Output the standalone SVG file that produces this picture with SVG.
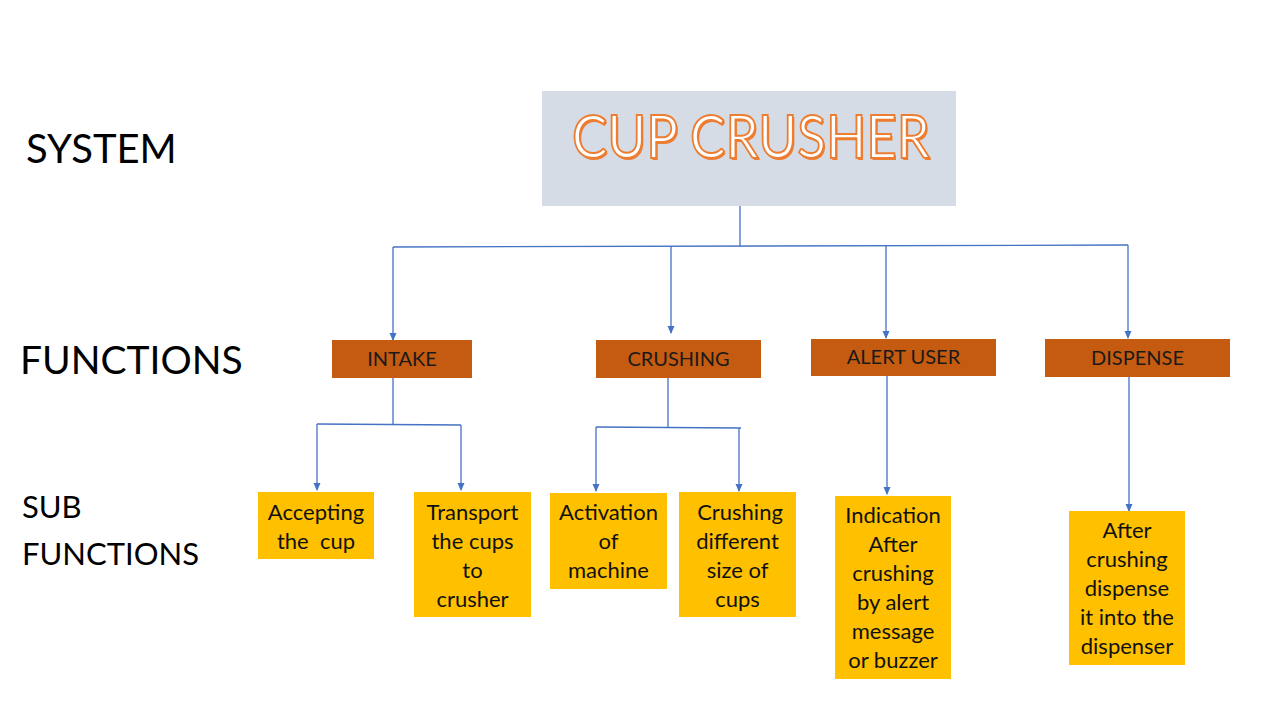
<svg xmlns="http://www.w3.org/2000/svg" width="1280" height="720" viewBox="0 0 1280 720">
<defs>
<marker id="arr" markerWidth="8" markerHeight="8" refX="7" refY="4" orient="auto" markerUnits="userSpaceOnUse">
<path d="M0,0.5 L8,4 L0,7.5 Z" fill="#4472C4"/>
</marker>
</defs>
<style>
text{font-family:Lato,"Liberation Sans",sans-serif;}
.lbl{fill:#000;}
.fn rect{fill:#C55A11;}
.fn text{font-size:20px;fill:#1a1a1a;text-anchor:middle;}
.sub rect{fill:#FFC000;}
.sub text{font-size:22px;fill:#111;text-anchor:middle;}
.c{stroke:#4472C4;stroke-width:1.3;fill:none;}
.a{marker-end:url(#arr);}
</style>
<rect width="1280" height="720" fill="#fff"/>
<g id="labels">
<text class="lbl" x="26" y="163" font-size="40">SYSTEM</text>
<text class="lbl" x="20" y="374" font-size="39">FUNCTIONS</text>
<text class="lbl" x="22" y="518" font-size="31">SUB</text>
<text class="lbl" x="22" y="565" font-size="31">FUNCTIONS</text>
</g>
<g id="system">
<rect x="542" y="91" width="414" height="115" fill="#D6DCE5"/>
<text x="752.5" y="159.5" font-size="60" text-anchor="middle" fill="#ED7D31" textLength="358" lengthAdjust="spacingAndGlyphs">CUP CRUSHER</text>
<text x="751" y="158" font-size="60" text-anchor="middle" fill="#fff" stroke="#ED7D31" stroke-width="2" textLength="358" lengthAdjust="spacingAndGlyphs">CUP CRUSHER</text>
</g>
<g id="connectors">
<path class="c" d="M740,206 V246"/>
<path class="c" d="M393,247 L1128,245"/>
<path class="c a" d="M393,247 V340"/>
<path class="c a" d="M671,246 V333"/>
<path class="c a" d="M886,246 V338"/>
<path class="c a" d="M1128,245 V338"/>
<path class="c" d="M393,378 V424"/>
<path class="c" d="M317,424 L461,425"/>
<path class="c a" d="M317,424 V490"/>
<path class="c a" d="M461,425 V490"/>
<path class="c" d="M668,378 V427"/>
<path class="c" d="M596,427 L741,428"/>
<path class="c a" d="M596,427 V491"/>
<path class="c a" d="M739,428 V491"/>
<path class="c a" d="M887,376 V494"/>
<path class="c a" d="M1129,377 V511"/>
</g>
<g id="intake" class="fn"><rect x="332" y="340" width="140" height="38"/><text x="402" y="366">INTAKE</text></g>
<g id="crushing" class="fn"><rect x="596" y="340" width="165" height="38"/><text x="678.5" y="366">CRUSHING</text></g>
<g id="alert-user" class="fn"><rect x="811" y="339" width="185" height="37"/><text x="903.5" y="364">ALERT USER</text></g>
<g id="dispense" class="fn"><rect x="1045" y="339" width="185" height="38"/><text x="1137.5" y="365">DISPENSE</text></g>
<g id="accepting" class="sub"><rect x="258" y="492" width="116" height="67"/>
<text x="316" y="520">Accepting</text><text x="316" y="549" style="white-space:pre">the  cup</text></g>
<g id="transport" class="sub"><rect x="414" y="492" width="117" height="125"/>
<text x="472.5" y="520">Transport</text><text x="472.5" y="549">the cups</text><text x="472.5" y="578">to</text><text x="472.5" y="607">crusher</text></g>
<g id="activation" class="sub"><rect x="550" y="493" width="117" height="96"/>
<text x="608.5" y="520">Activation</text><text x="608.5" y="549">of</text><text x="608.5" y="578">machine</text></g>
<g id="crushing-sizes" class="sub"><rect x="679" y="492" width="117" height="125"/>
<text x="740" y="520">Crushing</text><text x="737.5" y="549">different</text><text x="737.5" y="578">size of</text><text x="737.5" y="607">cups</text></g>
<g id="indication" class="sub"><rect x="835" y="496" width="116" height="183"/>
<text x="893" y="523">Indication</text><text x="893" y="552">After</text><text x="893" y="581">crushing</text><text x="893" y="610">by alert</text><text x="893" y="639">message</text><text x="893" y="668">or buzzer</text></g>
<g id="after-crushing" class="sub"><rect x="1069" y="511" width="116" height="154"/>
<text x="1127" y="538">After</text><text x="1127" y="567">crushing</text><text x="1127" y="596">dispense</text><text x="1127" y="625">it into the</text><text x="1127" y="654">dispenser</text></g>
</svg>
